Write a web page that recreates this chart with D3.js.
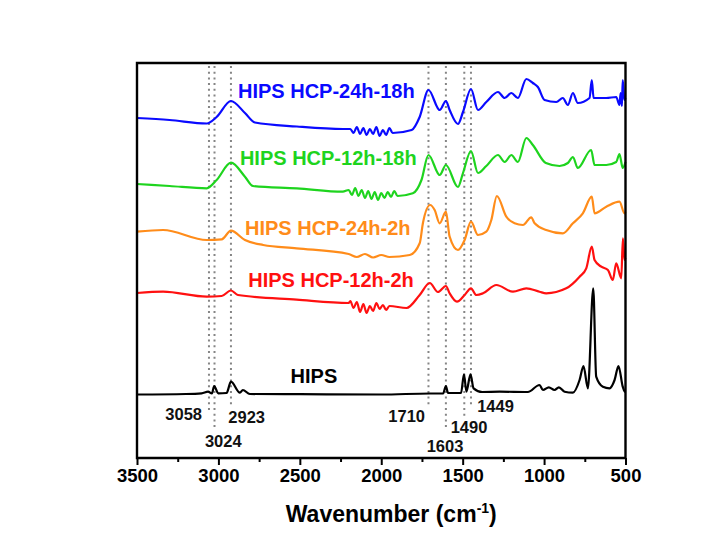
<!DOCTYPE html>
<html><head><meta charset="utf-8">
<script src="https://cdn.jsdelivr.net/npm/d3@7"></script>
<style>html,body{margin:0;padding:0;background:#fff;} text{font-family:Arial,"Liberation Sans",sans-serif;font-weight:bold;}</style>
</head><body><svg id="c" width="707" height="537"></svg>
<script>
// ---- data (wavenumber cm-1, intensity a.u. with vertical offsets) ----
const hcp24h18h = [[3500,340],[3300,338],[3072,334.5],[3011,341],[2923,357],[2837,345],[2776,335.5],[2518,331.5],[2236,329],
 [2190,329],[2170,325],[2150,331],[2130,324],[2110,330],[2090,323],[2070,329],[2050,324],[2030,331],[2010,322],[1990,328],[1970,323],[1950,330],[1930,325],
 [1813,328],[1764,341],[1710,368],[1641,348],[1603,357],[1580,348],[1529,334],[1498,346],[1449,369],[1406,348],[1355,356],[1283,366],[1242,360],
 [1201,365],[1161,360],[1109,379],[1069,375],[1038,371],[997,358],[925,356],[885,360],[854,353],[823,365],[793,355],[721,360],[707,378],[696,360],
 [618,360],[557,361],[537,353],[530,365],[522,352],[517,378],[507,358],[500,360]];
const hcp12h18h = [[3500,274],[3300,272],[3072,269.7],[3011,278],[2923,295.3],[2837,281.3],[2788,272],[2518,269.7],[2236,266.3],
 [2200,268],[2180,263],[2160,270],[2140,262],[2120,268],[2100,260],[2080,267],[2060,259],[2040,266],[2020,258],[2000,265],[1980,260],[1960,266],[1940,261],[1920,267],[1900,262],
 [1806,264.7],[1753,278],[1710,303],[1641,283],[1603,293],[1529,271],[1498,285],[1449,307],[1406,285],[1355,292],[1283,303],[1242,296],[1201,303],
 [1161,296],[1109,320],[1069,313],[989,295],[905,292],[854,295],[823,301],[793,290],[711,308],[690,293],[618,293],[557,296],[537,304],[517,290],[500,296]];
const hcp24h2h = [[3500,226.3],[3340,228],[3072,218],[2980,218.7],[2923,227.3],[2837,218],[2725,213],[2520,209.7],[2200,204],[2150,201],[2100,204],
 [2050,200.5],[2000,203],[1950,201],[1825,203],[1764,214.7],[1744,235],[1700,253],[1672,248],[1641,234.7],[1603,246.3],[1580,221.3],[1529,208],
 [1488,218],[1449,236.3],[1406,223],[1355,226.3],[1324,238],[1290,262],[1232,241.3],[1181,234.7],[1130,233],[1079,240.7],[1058,234.7],[987,228],
 [885,224.7],[823,234.7],[762,244.7],[707,261.3],[690,244.7],[618,251.3],[537,256.3],[506,244.7],[500,246]];
const hcp12h2h = [[3500,165],[3340,166.3],[3072,161.3],[2980,162],[2923,167.5],[2880,163],[2520,158.3],[2200,155],
 [2190,157],[2170,150],[2150,156],[2130,146],[2110,154],[2090,145],[2070,152],[2050,147],[2030,155],[2010,149],[1990,153],[1970,148],[1950,152],
 [1845,150],[1764,163],[1702,175],[1652,166],[1603,172],[1580,164.7],[1535,156.3],[1488,163],[1449,169.7],[1416,163],[1375,164.7],[1293,173],
 [1191,166.3],[1109,169.7],[1028,166.3],[987,164.7],[864,169.7],[782,181.3],[741,189.7],[707,211.3],[690,198],[649,191.3],[608,188],[578,178],
 [557,194.7],[526,179.7],[516,219.7],[506,198],[500,200]];
const hips = [[3500,63.5],[3200,64],[3103,64.7],[3063,66.3],[3040,64.5],[3026,72],[3001,64.7],[2950,65],[2923,76.3],[2868,65.3],[2850,68],[2807,64],
 [2500,63.8],[2000,63.5],[1700,64.5],[1620,64.5],[1603,72],[1590,65],[1510,65],[1492,83.7],[1477,66.3],[1452,83.7],[1433,69.7],[1380,66],[1273,66.3],
 [1100,66],[1028,73],[1007,68],[971,70.7],[936,68],[909,70.7],[874,66.3],[823,65.3],[782,78],[758,92],[731,69.7],[698,169.7],[680,81.3],[639,71.3],
 [598,69.7],[567,78],[543,92],[517,71.3],[504,66.3],[500,66]];

const seriesNames = ["HIPS HCP-24h-18h","HIPS HCP-12h-18h","HIPS HCP-24h-2h","HIPS HCP-12h-2h","HIPS"];
const seriesData = [hcp24h18h, hcp12h18h, hcp24h2h, hcp12h2h, hips];
const seriesColors = ["#0a0aff","#1ed41e","#ff8c1a","#ff1010","#000000"];
const labelAnchor = [[2880,98],[2868,165],[2837,235],[2817,286.7],[2557,383.3]]; // [wavenumber at label start, baseline px]

const markerWn = [3058,3024,2923,1710,1603,1490,1449];
const markerLabels = ["3058","3024","2923","1710","1603","1490","1449"];
const markerEnd = [412,427,406,406,427,417,405];
const markerLabelPos = [[183.7,420],[223.3,446.7],[246.7,423.3],[406.7,421.7],[445,451.7],[469,433.3],[495.5,411.7]];

const majorTicks = [3500,3000,2500,2000,1500,1000,500];
const minorTicks = [3250,2750,2250,1750,1250,750];

// ---- layout ----
const L = 137, R = 625.5, T = 63, B = 458;
const svg = d3.select("#c");
svg.append("rect").attr("width",707).attr("height",537).attr("fill","#fff");
const x = d3.scaleLinear().domain([3500,500]).range([L,R]);
const y = d3.scaleLinear().domain([0,395]).range([B,T]);

// dotted marker lines
svg.append("g").selectAll("line").data(markerWn).join("line")
  .attr("x1",d=>x(d)).attr("x2",d=>x(d)).attr("y1",T+3).attr("y2",(d,i)=>markerEnd[i])
  .attr("stroke","#858585").attr("stroke-width",2).attr("stroke-dasharray","2,3.7");

// curves
const line = d3.line().x(d=>x(d[0])).y(d=>y(d[1])).curve(d3.curveMonotoneX);
svg.append("g").selectAll("path").data(seriesData).join("path")
  .attr("d",line).attr("fill","none").attr("stroke",(d,i)=>seriesColors[i])
  .attr("stroke-width",2.2).attr("stroke-linejoin","round");

// series labels
svg.append("g").selectAll("text").data(seriesNames).join("text")
  .attr("x",(d,i)=>x(labelAnchor[i][0])).attr("y",(d,i)=>labelAnchor[i][1])
  .attr("fill",(d,i)=>seriesColors[i]).attr("font-size",20).text(d=>d);

// marker labels
svg.append("g").selectAll("text").data(markerLabels).join("text")
  .attr("x",(d,i)=>markerLabelPos[i][0]).attr("y",(d,i)=>markerLabelPos[i][1])
  .attr("text-anchor","middle").attr("font-size",16.5).attr("fill","#111").text(d=>d);

// frame (four sides)
svg.append("path")
  .attr("d",`M${L},${T}H${R}V${B}H${L}Z`)
  .attr("fill","none").attr("stroke","#000").attr("stroke-width",2.4).attr("stroke-linejoin","miter");

// axes
const ax = svg.append("g").attr("transform",`translate(0,${B})`)
  .call(d3.axisBottom(x).tickValues(majorTicks).tickSize(7).tickPadding(4).tickFormat(d3.format("d")));
ax.select(".domain").remove();
ax.selectAll("line").attr("stroke-width",2);
ax.selectAll("text").attr("font-size",18.5).attr("font-family","Arial,'Liberation Sans',sans-serif").attr("font-weight","bold").attr("fill","#000");
const axm = svg.append("g").attr("transform",`translate(0,${B})`)
  .call(d3.axisBottom(x).tickValues(minorTicks).tickSize(4).tickFormat(""));
axm.select(".domain").remove();
axm.selectAll("line").attr("stroke-width",2);

// axis title
const title = svg.append("text").attr("x",(L+R)/2+10).attr("y",522).attr("text-anchor","middle").attr("font-size",23);
title.append("tspan").text("Wavenumber (cm");
title.append("tspan").attr("font-size",14).attr("dy",-9).text("-1");
title.append("tspan").attr("dy",9).text(")");
</script></body></html>
